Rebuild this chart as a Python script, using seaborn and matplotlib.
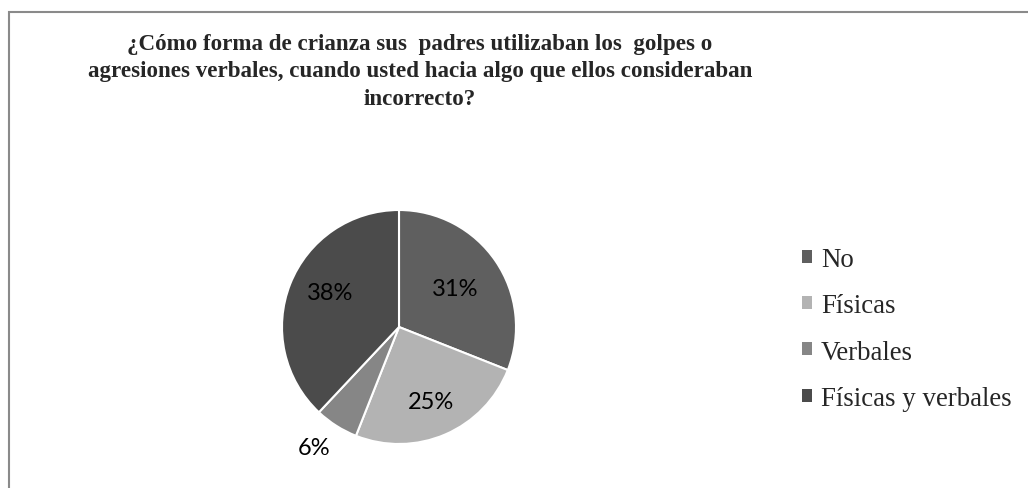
import numpy as np
import matplotlib
matplotlib.use("Agg")
import matplotlib.pyplot as plt
import seaborn as sns
from matplotlib.patches import Rectangle

sns.set_theme(style="white")

categories = ["No", "Físicas", "Verbales", "Físicas y verbales"]
values = [31, 25, 6, 38]
colors = ["#5f5f5f", "#b3b3b3", "#868686", "#4b4b4b"]
label_dist = [0.58, 0.69, 1.26, 0.66]
label_turn = [0, 0, -3, -5]
title = ("¿Cómo forma de crianza sus  padres utilizaban los  golpes o\n"
         "agresiones verbales, cuando usted hacia algo que ellos consideraban\n"
         "incorrecto?")

fig = plt.figure(figsize=(10.28, 4.89), dpi=100)
fig.patch.set_facecolor("white")

# frame border (cropped on right/bottom)
fig.patches.append(Rectangle((8.5 / 1028, -0.1), 1.2, 1 - 12.5 / 489 + 0.1,
                             transform=fig.transFigure, fill=False,
                             edgecolor="#8a8a8a", linewidth=1.5))

cx, cy, r = 399, 328, 117
ax = fig.add_axes([(cx - r) / 1028, (489 - cy - r) / 489, 2 * r / 1028, 2 * r / 489])
wedges, texts, autotexts = ax.pie(values, colors=colors, startangle=90, counterclock=False,
                                  autopct=lambda p: f"{p:.0f}%",
                                  wedgeprops=dict(edgecolor="white", linewidth=1.5),
                                  textprops=dict(family="Lato", fontsize=17, color="black"))
for w, t, d, turn in zip(wedges, autotexts, label_dist, label_turn):
    ang = np.deg2rad((w.theta1 + w.theta2) / 2 + turn)
    t.set_position((d * np.cos(ang), d * np.sin(ang)))
    t.set_ha("center"); t.set_va("center")
ax.set_xlim(-1, 1)
ax.set_ylim(-1, 1)
ax.set_aspect("equal")

fig.text(420 / 1028, 1 - 72 / 489, title, ha="center", va="center", multialignment="center",
         family="Liberation Serif", fontweight="bold", fontsize=16.6, linespacing=1.4)

leg = fig.legend(wedges, categories, loc="upper left", bbox_to_anchor=(802 / 1028, 1 - 248 / 489),
                 frameon=False, prop=dict(family="Liberation Serif", size=19.4),
                 handlelength=0.37, handleheight=0.37, handletextpad=0.33, labelspacing=0.79,
                 borderpad=0, borderaxespad=0)
for h in leg.legend_handles:
    h.set_edgecolor("none")

fig.savefig("out.png", dpi=100, facecolor="white")
